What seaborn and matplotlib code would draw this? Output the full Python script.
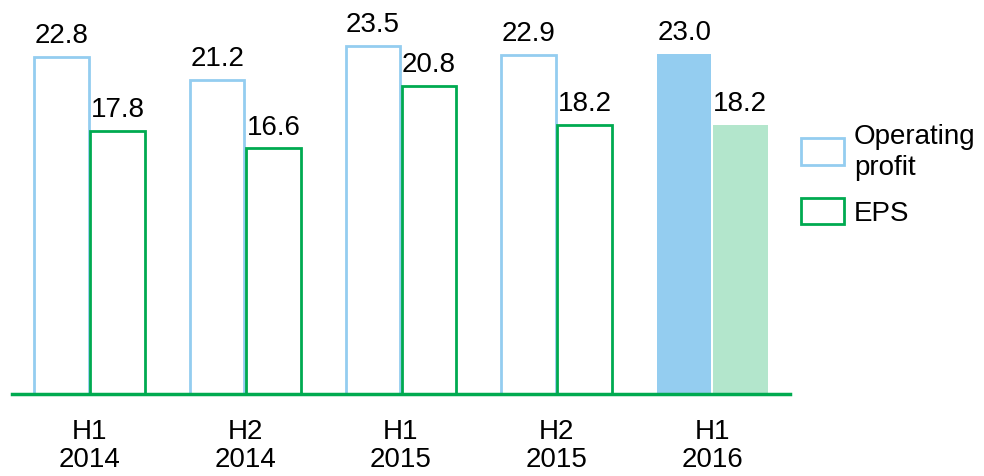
import matplotlib
matplotlib.use("Agg")
import matplotlib.pyplot as plt
import pandas as pd
import seaborn as sns
from matplotlib.patches import Patch

periods = ["H1\n2014", "H2\n2014", "H1\n2015", "H2\n2015", "H1\n2016"]
operating_profit = [22.8, 21.2, 23.5, 22.9, 23.0]
eps = [17.8, 16.6, 20.8, 18.2, 18.2]
series = ["Operating\nprofit", "EPS"]

blue = "#94CDF0"
green = "#00AA50"
green_fill = "#B3E6CC"

df = pd.DataFrame({
    "period": periods * 2,
    "series": [series[0]] * len(periods) + [series[1]] * len(periods),
    "value": operating_profit + eps,
})

sns.set_theme(style="white")
plt.rcParams["font.family"] = ["Liberation Sans", "DejaVu Sans"]
plt.rcParams["text.color"] = "black"
plt.rcParams["xtick.color"] = "black"

fig = plt.figure(figsize=(9.84, 4.77), dpi=100)
ax = fig.add_axes([0.012, 0.172, 0.791, 0.828])

sns.barplot(data=df, x="period", y="value", hue="series", order=periods,
            hue_order=series, width=0.72, gap=0.03, ax=ax, legend=False)

n = len(periods)
for i, bar in enumerate(ax.patches[:2 * n]):
    is_op = i < n
    edge = blue if is_op else green
    last = (i % n) == n - 1
    if last:
        bar.set_facecolor(blue if is_op else green_fill)
        bar.set_edgecolor("none")
    else:
        bar.set_facecolor("white")
        bar.set_edgecolor(edge)
        bar.set_linewidth(2)
    h = bar.get_height()
    ax.text(bar.get_x() + bar.get_width() / 2, h + 0.6, f"{h:.1f}",
            ha="center", va="bottom", fontsize=20, color="black")

ax.set_xlim(-0.5, 4.5)
ax.set_ylim(0, 26.7)
ax.set_xlabel("")
ax.set_ylabel("")
ax.set_yticks([])
for s in ["top", "right", "left"]:
    ax.spines[s].set_visible(False)
ax.spines["bottom"].set_color(green)
ax.spines["bottom"].set_linewidth(2.5)
ax.tick_params(axis="x", length=0, pad=17, labelsize=20, labelcolor="black")
for lbl in ax.get_xticklabels():
    lbl.set_linespacing(1.1)

handles = [Patch(facecolor="white", edgecolor=blue, linewidth=2, label=series[0]),
           Patch(facecolor="white", edgecolor=green, linewidth=2, label=series[1])]
leg = fig.legend(handles=handles, loc="upper left", bbox_to_anchor=(0.8, 0.77),
                 frameon=False, fontsize=20, handlelength=1.55, handleheight=1.1,
                 handletextpad=0.35, labelspacing=0.65, borderpad=0)
for t in leg.get_texts():
    t.set_linespacing(1.25)

fig.savefig("out.png", dpi=100)
